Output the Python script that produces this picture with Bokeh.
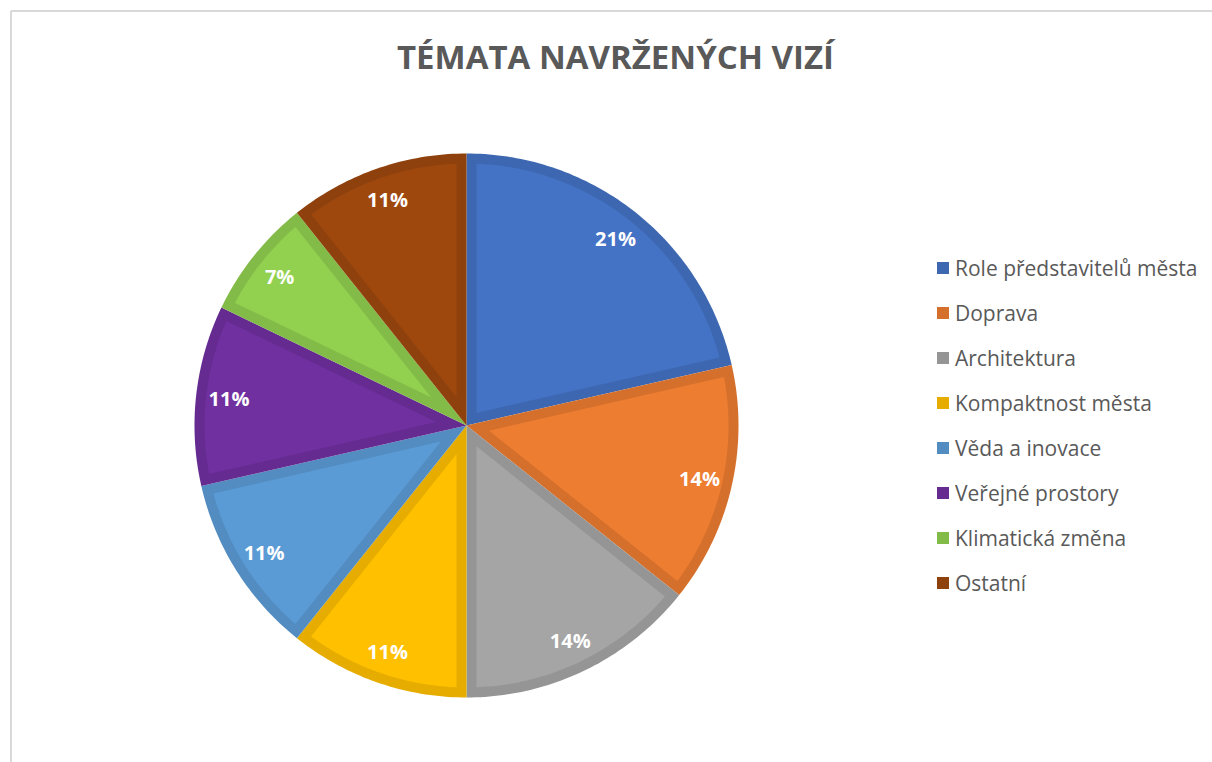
import math
from bokeh.plotting import figure
from bokeh.models import Range1d, Legend, LegendItem, Label
from bokeh.core.properties import value
from bokeh.embed import file_html
from bokeh.resources import INLINE

# ---- data ----
title_text = "TÉMATA NAVRŽENÝCH VIZÍ"
categories = ["Role představitelů města", "Doprava", "Architektura", "Kompaktnost města",
              "Věda a inovace", "Veřejné prostory", "Klimatická změna", "Ostatní"]
counts = [6, 4, 4, 3, 3, 3, 2, 3]
fill_colors = ["#4472C4", "#ED7D31", "#A5A5A5", "#FFC000", "#5B9BD5", "#7030A0", "#92D050", "#9E480E"]
edge_colors = ["#3D67B0", "#D5702C", "#959595", "#E6AD00", "#528CC0", "#652B90", "#83BB48", "#8E410D"]

# ---- layout ----
W, H = 1212, 762
CX, CY, R = 466, 425, 272
INSET = 10
LABEL_R = 239

p = figure(width=W, height=H, output_backend="svg", toolbar_location=None,
           x_range=Range1d(0, W), y_range=Range1d(H, 0),
           x_axis_location=None, y_axis_location=None, min_border=0)
p.grid.visible = False
p.outline_line_color = None
p.background_fill_color = "white"
p.border_fill_color = "white"

# chart-area border
p.segment(x0=[10.5, 10.5], y0=[10.5, 10.5], x1=[10.5, W + 20], y1=[H + 20, 10.5],
          line_color="#D9D9D9", line_width=2)

total = sum(counts)
def pt(r, ang):
    return CX + r * math.sin(ang), CY - r * math.cos(ang)

outer_xs, outer_ys, inner_xs, inner_ys = [], [], [], []
lab_x, lab_y, lab_t = [], [], []
start = 0.0
for c in counts:
    sweep = 2 * math.pi * c / total
    a, b = start, start + sweep
    n = max(8, int(sweep * 60))
    xs, ys = [CX], [CY]
    for i in range(n + 1):
        x, y = pt(R, a + sweep * i / n)
        xs.append(x); ys.append(y)
    outer_xs.append(xs); outer_ys.append(ys)
    # inset (lighter) part of the slice
    m = (a + b) / 2
    ax_, ay_ = pt(INSET / math.sin(sweep / 2), m)
    d = math.asin(INSET / (R - INSET))
    a2, b2 = a + d, b - d
    xs, ys = [ax_], [ay_]
    for i in range(n + 1):
        x, y = pt(R - INSET, a2 + (b2 - a2) * i / n)
        xs.append(x); ys.append(y)
    inner_xs.append(xs); inner_ys.append(ys)
    lx, ly = pt(LABEL_R, m)
    lab_x.append(lx); lab_y.append(ly)
    lab_t.append(f"{round(100 * c / total)}%")
    start = b

outer = p.patches(xs=outer_xs, ys=outer_ys, fill_color=edge_colors, line_color=None)
p.patches(xs=inner_xs, ys=inner_ys, fill_color=fill_colors, line_color=None)

p.text(x=lab_x, y=lab_y, text=lab_t, text_color="white", text_font=value("Open Sans"),
       text_font_style="bold", text_font_size="20px", text_align="center", text_baseline="middle")

p.add_layout(Label(x=615, y=H - 56, x_units="screen", y_units="screen", text=title_text,
                   text_font="Open Sans", text_font_style="bold", text_font_size="33px",
                   text_color="#595959", text_align="center", text_baseline="middle"))

items = [LegendItem(label=cat, renderers=[outer], index=i) for i, cat in enumerate(categories)]
legend = Legend(items=items, location=(935, 165), orientation="vertical",
                glyph_width=15, glyph_height=15, label_height=29, spacing=16,
                label_standoff=5, padding=0, margin=0,
                label_text_font="Open Sans", label_text_font_size="21px",
                label_text_color="#595959", background_fill_alpha=0, border_line_color=None)
p.add_layout(legend, "center")

open("out.html", "w").write(file_html(p, INLINE))
